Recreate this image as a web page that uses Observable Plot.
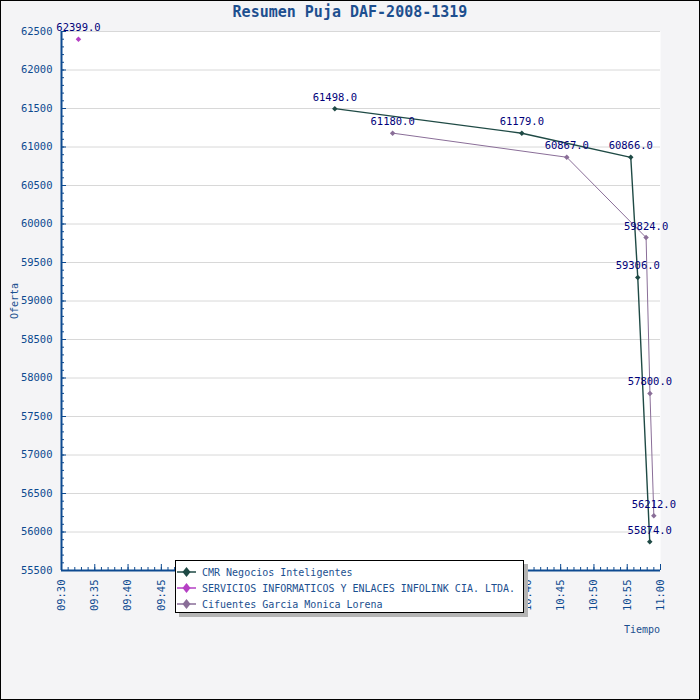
<!DOCTYPE html>
<html><head><meta charset="utf-8">
<script src="https://cdn.jsdelivr.net/npm/d3@7"></script>
<script src="https://cdn.jsdelivr.net/npm/@observablehq/plot@0.6"></script>
<style>
body{margin:0;background:#fff;}
#wrap{position:relative;width:700px;height:700px;background:#f4f4f6;overflow:hidden;font-family:"DejaVu Sans Mono",monospace;color:#1b4f8f;}
#chart{position:absolute;left:0;top:0;}
#title{position:absolute;left:0;width:700px;top:3px;text-align:center;font-weight:bold;font-size:15px;color:#1d4f8f;}
#ylab{position:absolute;left:14px;top:301px;font-size:10px;transform:translate(-50%,-50%) rotate(-90deg);white-space:nowrap;}
#xlab{position:absolute;right:40px;top:624px;font-size:10px;}
#legend{position:absolute;left:175px;top:560px;width:347px;height:51px;background:#fff;border:1px solid #000;box-shadow:4px 4px 0 #b4b4b4;font-size:10px;color:#1b4f8f;}
#legend .row{position:absolute;left:0;height:16px;display:flex;align-items:center;}
#legend svg{margin-right:6px;}
#border{position:absolute;left:0;top:0;width:700px;height:700px;box-sizing:border-box;border:1px solid #000;pointer-events:none;}
</style></head><body>
<div id="wrap">
  <div id="chart"></div>
  <div id="title">Resumen Puja DAF-2008-1319</div>
  <div id="ylab">Oferta</div>
  <div id="xlab">Tiempo</div>
  <div id="legend"></div>
  <div id="border"></div>
</div>
<script>
const seriesNames = ["CMR Negocios Inteligentes", "SERVICIOS INFORMATICOS Y ENLACES INFOLINK CIA. LTDA.", "Cifuentes Garcia Monica Lorena"];
const seriesColors = ["#1f4a45", "#b540c4", "#8a6e98"];

const cmrTimes = ["10:11:04", "10:39:10", "10:55:32", "10:56:35", "10:58:23"];
const cmrOffers = [61498, 61179, 60866, 59306, 55874];

const infolinkTimes = ["09:32:33"];
const infolinkOffers = [62399];

const cifuentesTimes = ["10:19:45", "10:45:55", "10:57:50", "10:58:25", "10:59:00"];
const cifuentesOffers = [61180, 60867, 59824, 57800, 56212];

const xTickLabels = ["09:30","09:35","09:40","09:45","09:50","09:55","10:00","10:05","10:10","10:15","10:20","10:25","10:30","10:35","10:40","10:45","10:50","10:55","11:00"];
const yTickValues = [55500,56000,56500,57000,57500,58000,58500,59000,59500,60000,60500,61000,61500,62000,62500];

const day = "2008-06-01";
const toDate = t => new Date(`${day}T${t.length === 5 ? t + ":00" : t}Z`);

const rows = [];
[[cmrTimes, cmrOffers], [infolinkTimes, infolinkOffers], [cifuentesTimes, cifuentesOffers]].forEach(([ts, vs], i) => {
  ts.forEach((t, j) => rows.push({series: seriesNames[i], time: toDate(t), offer: vs[j]}));
});

const t0 = toDate(xTickLabels[0]);
const t1 = toDate(xTickLabels[xTickLabels.length - 1]);
const xMajor = xTickLabels.map(toDate);
const xMinor = d3.utcMinute.range(t0, new Date(+t1 + 1));
const yMinor = d3.range(yTickValues[0], yTickValues[yTickValues.length - 1] + 1, 100);
const axisColor = "#0d4a90";

const plot = Plot.plot({
  width: 700, height: 700,
  marginLeft: 61, marginRight: 40, marginTop: 31, marginBottom: 130,
  style: {background: "transparent", fontFamily: "DejaVu Sans Mono, monospace", fontSize: "10.5px", color: axisColor, overflow: "visible"},
  x: {type: "utc", domain: [t0, t1]},
  y: {domain: [yTickValues[0], yTickValues[yTickValues.length - 1]]},
  color: {domain: seriesNames, range: seriesColors},
  marks: [
    Plot.frame({fill: "white", stroke: null}),
    Plot.gridY(yTickValues, {stroke: "#d8d8d8", strokeOpacity: 1}),
    Plot.axisY(yMinor, {tickSize: -3, tickFormat: () => "", label: null}),
    Plot.axisY(yTickValues, {tickSize: -5, tickPadding: 14, tickFormat: d => String(d), label: null}),
    Plot.axisX(xMinor, {tickSize: -3, tickFormat: () => "", label: null}),
    Plot.axisX(xMajor, {tickSize: -6, tickPadding: 15, tickRotate: -90, tickFormat: d3.utcFormat("%H:%M"), label: null}),
    Plot.ruleX([t0], {stroke: axisColor, strokeWidth: 2}),
    Plot.ruleY([yTickValues[0]], {stroke: axisColor, strokeWidth: 2}),
    Plot.line(rows, {x: "time", y: "offer", z: "series", stroke: "series", strokeWidth: d => d.series === seriesNames[0] ? 1.4 : 1}),
    Plot.dot(rows, {x: "time", y: "offer", fill: "series", symbol: "square", r: 2.2, rotate: 45, stroke: null}),
    Plot.text(rows, {x: "time", y: "offer", text: d => d.offer.toFixed(1), dy: -8, lineAnchor: "bottom", fill: "#00007a", fontSize: 10.5})
  ]
});
document.getElementById("chart").appendChild(plot);

const legend = document.getElementById("legend");
seriesNames.forEach((name, i) => {
  const row = document.createElement("div");
  row.className = "row";
  row.style.top = (3 + i * 16) + "px";
  const c = seriesColors[i];
  row.innerHTML = `<svg width="20" height="14"><line x1="1" y1="7" x2="20" y2="7" stroke="${c}" stroke-width="1.5"/><path d="M10.5,2 L14.5,7 L10.5,12 L6.5,7Z" fill="${c}"/></svg><span>${name}</span>`;
  legend.appendChild(row);
});
</script>
</body></html>
